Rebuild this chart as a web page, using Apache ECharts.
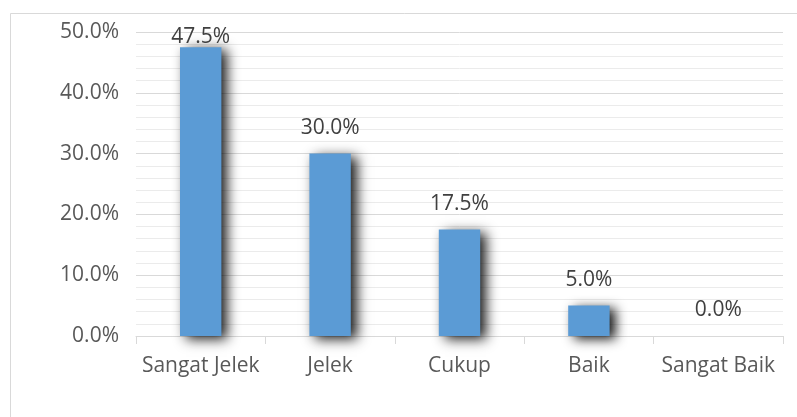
<!DOCTYPE html>
<html>
<head>
<meta charset="utf-8">
<script src="https://cdn.jsdelivr.net/npm/echarts@6/dist/echarts.min.js"></script>
<style>html,body{margin:0;padding:0;background:#fff}#c{width:797px;height:417px}</style>
</head>
<body>
<div id="c"></div>
<script>
const categories = ['Sangat Jelek', 'Jelek', 'Cukup', 'Baik', 'Sangat Baik'];
const values = [47.5, 30.0, 17.5, 5.0, 0.0];
const yMin = 0, yMax = 50, yInterval = 10;

const chart = echarts.init(document.getElementById('c'), null, {renderer: 'canvas'});
const FONT = 'Open Sans';
const FS = 21;
const data = values.map((v, i) => i === 0
  ? {value: v, label: {distance: 0}}
  : {value: v});
chart.setOption({
  animation: false,
  backgroundColor: '#fff',
  graphic: [{
    type: 'rect', silent: true, z: -1,
    shape: {x: 10.5, y: 13.5, width: 820, height: 440},
    style: {fill: 'none', stroke: '#d9d9d9', lineWidth: 1}
  }],
  grid: {left: 136, right: 14, top: 32, bottom: 81, containLabel: false},
  xAxis: {
    type: 'category', data: categories,
    axisLine: {lineStyle: {color: '#d9d9d9', width: 1}},
    axisTick: {show: true, alignWithLabel: false, length: 8, lineStyle: {color: '#d9d9d9'}},
    axisLabel: {color: '#595959', fontFamily: FONT, fontSize: FS, margin: 20, interval: 0}
  },
  yAxis: {
    type: 'value', min: yMin, max: yMax, interval: yInterval,
    axisLine: {show: false}, axisTick: {show: false},
    axisLabel: {color: '#595959', fontFamily: FONT, fontSize: FS, margin: 17,
      formatter: v => v.toFixed(1) + '%'},
    splitLine: {lineStyle: {color: '#d9d9d9', width: 1}},
    minorTick: {show: false, splitNumber: 5},
    minorSplitLine: {show: true, lineStyle: {color: '#ebebeb', width: 1}}
  },
  series: [{
    type: 'bar', data: data, barWidth: '32%',
    itemStyle: {color: '#5b9bd5', shadowColor: 'rgba(0,0,0,0.9)', shadowBlur: 12, shadowOffsetX: 6, shadowOffsetY: 3},
    label: {show: true, position: 'top', distance: 15, color: '#404040', fontFamily: FONT, fontSize: FS,
      formatter: p => p.value.toFixed(1) + '%'}
  }]
});
</script>
</body>
</html>
